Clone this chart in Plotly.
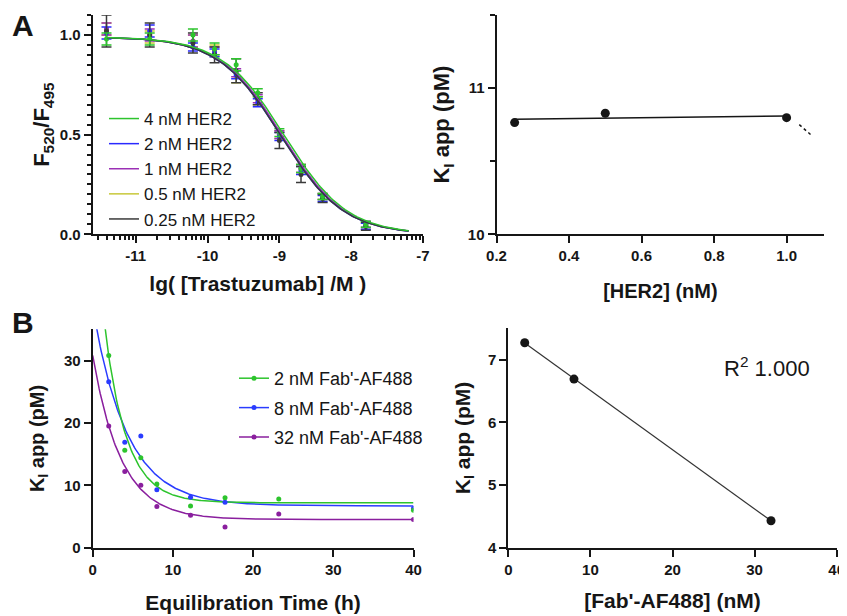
import numpy as np
import plotly.graph_objects as go

FONT = "Liberation Sans, Arial, Helvetica, sans-serif"
INK = "#161616"

# ---------------- Panel A (left): dose-response ----------------
lg_conc = [-11.408, -10.806, -10.204, -9.903, -9.602, -9.301, -9.000, -8.699, -8.398, -7.796]
her2_labels = ["4 nM HER2", "2 nM HER2", "1 nM HER2", "0.5 nM HER2", "0.25 nM HER2"]
her2_colors = ["#2dc42d", "#2a2aff", "#9b30b5", "#c8c83a", "#3a3a3a"]
ratio_4nM = [0.98, 0.98, 1.00, 0.93, 0.85, 0.71, 0.51, 0.33, 0.19, 0.05]
ratio_2nM = [1.01, 1.02, 0.94, 0.91, 0.80, 0.66, 0.49, 0.32, 0.18, 0.04]
ratio_1nM = [1.03, 1.00, 0.97, 0.92, 0.81, 0.68, 0.50, 0.33, 0.19, 0.05]
ratio_05nM = [1.03, 0.99, 0.97, 0.92, 0.79, 0.67, 0.50, 0.33, 0.19, 0.04]
ratio_025nM = [1.02, 1.00, 0.96, 0.90, 0.82, 0.68, 0.47, 0.30, 0.18, 0.04]
err_4nM = [0.03, 0.03, 0.03, 0.03, 0.03, 0.02, 0.02, 0.02, 0.015, 0.015]
err_2nM = [0.03, 0.03, 0.02, 0.02, 0.02, 0.02, 0.02, 0.02, 0.015, 0.015]
err_1nM = [0.03, 0.03, 0.03, 0.02, 0.02, 0.02, 0.02, 0.02, 0.015, 0.015]
err_05nM = [0.03, 0.03, 0.03, 0.03, 0.03, 0.02, 0.02, 0.02, 0.015, 0.015]
err_025nM = [0.08, 0.06, 0.05, 0.04, 0.06, 0.03, 0.04, 0.04, 0.02, 0.02]
fit_top = [0.99, 0.99, 0.99, 0.99, 0.99]
fit_logic50 = [-8.93, -8.98, -8.96, -8.97, -8.98]
fit_hill = [1.0, 1.0, 1.0, 1.0, 1.0]
fit_lg_start, fit_lg_end = -11.4, -7.2

# ---------------- Panel A (right): Ki app vs HER2 ----------------
her2_nM = [0.25, 0.5, 1.0]
ki_her2 = [10.764, 10.828, 10.798]
ext_her2_x = [1.035, 1.066]
ext_her2_y = [10.75, 10.683]

# ---------------- Panel B (left): Ki app vs time ----------------
eq_time = [2, 4, 6, 8, 12.2, 16.5, 23.2, 40.0]
ki_2nM = [30.8, 15.6, 14.4, 10.2, 6.7, 8.0, 7.8, 6.0]
ki_8nM = [26.6, 16.9, 17.9, 9.3, 8.1, 7.3, None, 6.3]
ki_32nM = [19.5, 12.2, 10.0, 6.6, 5.2, 3.3, 5.4, 4.5]
fab_labels = ["2 nM Fab'-AF488", "8 nM Fab'-AF488", "32 nM Fab'-AF488"]
fab_colors = ["#2dc42d", "#2a3cff", "#8a1f9e"]
decay_y0 = [56.1, 38.5, 30.8]
decay_plateau = [7.2, 6.7, 4.5]
decay_k = [0.366, 0.235, 0.281]

# ---------------- Panel B (right): Ki app vs Fab' ----------------
fab_nM = [2, 8, 32]
ki_fab = [7.27, 6.69, 4.43]

# ---------------- tick labels ----------------
A_xticks = [-11, -10, -9, -8, -7]
A_yticks = [0.0, 0.5, 1.0]
A2_xticks = [0.2, 0.4, 0.6, 0.8, 1.0]
A2_yticks = [10, 11]
B_xticks = [0, 10, 20, 30, 40]
B_yticks = [0, 10, 20, 30]
B2_xticks = [0, 10, 20, 30, 40]
B2_yticks = [4, 5, 6, 7]

fig = go.Figure()

# Panel A left traces
series_A = [ratio_4nM, ratio_2nM, ratio_1nM, ratio_05nM, ratio_025nM]
errs_A = [err_4nM, err_2nM, err_1nM, err_05nM, err_025nM]
draw_order = [3, 2, 1, 4, 0]
lg_grid = np.linspace(fit_lg_start, fit_lg_end, 200)
for i in draw_order:
    fig.add_trace(go.Scatter(
        x=lg_conc, y=series_A[i], mode="markers",
        marker=dict(color=her2_colors[i], size=5),
        error_y=dict(type="data", array=errs_A[i], color=her2_colors[i], thickness=1.5, width=5),
        xaxis="x", yaxis="y", showlegend=False, hoverinfo="skip"))
for i in draw_order:
    yfit = fit_top[i] / (1 + 10 ** ((lg_grid - fit_logic50[i]) * fit_hill[i]))
    fig.add_trace(go.Scatter(
        x=lg_grid, y=yfit, mode="lines", name=her2_labels[i],
        line=dict(color=her2_colors[i], width=1.5),
        xaxis="x", yaxis="y", legend="legend", legendrank=i + 1))

# Panel A right
slope, icpt = np.polyfit(her2_nM, ki_her2, 1)
fx = np.array([min(her2_nM), max(her2_nM)])
fig.add_trace(go.Scatter(x=fx, y=slope * fx + icpt, mode="lines",
                         line=dict(color=INK, width=1.5), xaxis="x2", yaxis="y2", showlegend=False))
fig.add_trace(go.Scatter(x=ext_her2_x, y=ext_her2_y, mode="lines",
                         line=dict(color=INK, width=1.5, dash="dot"), xaxis="x2", yaxis="y2", showlegend=False))
fig.add_trace(go.Scatter(x=her2_nM, y=ki_her2, mode="markers",
                         marker=dict(color=INK, size=9), xaxis="x2", yaxis="y2", showlegend=False))

# Panel B left
series_B = [ki_2nM, ki_8nM, ki_32nM]
t_grid = np.linspace(0, 40, 300)
for i in [2, 1, 0]:
    yfit = decay_plateau[i] + (decay_y0[i] - decay_plateau[i]) * np.exp(-decay_k[i] * t_grid)
    fig.add_trace(go.Scatter(x=t_grid, y=yfit, mode="lines", line=dict(color=fab_colors[i], width=1.5),
                             xaxis="x3", yaxis="y3", showlegend=False, hoverinfo="skip"))
for i in [2, 1, 0]:
    fig.add_trace(go.Scatter(x=eq_time, y=series_B[i], mode="markers",
                             marker=dict(color=fab_colors[i], size=5),
                             xaxis="x3", yaxis="y3", showlegend=False))
for i in [0, 1, 2]:
    # legend entry (line + marker sample)
    fig.add_trace(go.Scatter(x=[None], y=[None], mode="markers+lines", name=fab_labels[i],
                             line=dict(color=fab_colors[i], width=1.5),
                             marker=dict(color=fab_colors[i], size=5),
                             xaxis="x3", yaxis="y3", legend="legend2", legendgroup=f"g{i}"))

# Panel B right
s2, i2 = np.polyfit(fab_nM, ki_fab, 1)
fx2 = np.array([min(fab_nM), max(fab_nM)])
fig.add_trace(go.Scatter(x=fx2, y=s2 * fx2 + i2, mode="lines", line=dict(color="#333", width=1.2),
                         xaxis="x4", yaxis="y4", showlegend=False))
fig.add_trace(go.Scatter(x=fab_nM, y=ki_fab, mode="markers", marker=dict(color=INK, size=9),
                         xaxis="x4", yaxis="y4", showlegend=False))

# The page body has an 8px margin; the figure is sized/positioned so that
# screen coordinates match the 847x616 reference.
OFF = 8
W, H = 847 - OFF, 616 - OFF
def fx_(p): return (p - OFF) / W
def fy_(p): return 1 - (p - OFF) / H

TICKFONT = dict(family=FONT, size=15, color=INK, weight="bold")

def ax(domain, rng, tickvals, ticktext, title, standoff, anchor, tsize, minor=None):
    d = dict(domain=domain, range=rng, tickmode="array", tickvals=tickvals, ticktext=ticktext,
             showline=True, linecolor=INK, linewidth=2, ticks="outside", ticklen=7, tickwidth=2,
             tickcolor=INK, showgrid=False, zeroline=False, anchor=anchor, automargin=False,
             tickfont=TICKFONT,
             title=dict(text=title, standoff=standoff,
                        font=dict(family=FONT, size=tsize, color=INK, weight="bold")))
    if minor:
        d["minor"] = minor
    return d

log_minor = [d + np.log10(k) for d in range(-12, -7) for k in range(2, 10) if -11.6 < d + np.log10(k) < -7]
minor_log = dict(tickmode="array", tickvals=log_minor, ticks="outside", ticklen=4, tickwidth=1.5, tickcolor=INK)

fig.update_layout(
    width=W, height=H, margin=dict(l=0, r=0, t=0, b=0, autoexpand=False),
    paper_bgcolor="white", plot_bgcolor="white",
    font=dict(family=FONT, color=INK),
    xaxis=ax([fx_(92.7), fx_(423)], [-11.6, -7], A_xticks, [str(v) for v in A_xticks],
             "lg( [Trastuzumab] /M )", 13, "y", 21, minor_log),
    yaxis=ax([fy_(234.3), fy_(15)], [0, 1.1], A_yticks, [f"{v:.1f}" for v in A_yticks],
             "F<sub>520</sub>/F<sub>495</sub>", 4, "x", 22,
             dict(dtick=0.05, tick0=0, ticks="outside", ticklen=4, tickwidth=1.5, tickcolor=INK)),
    xaxis2=ax([fx_(496.5), fx_(824.3)], [0.2, 1.104], A2_xticks, [f"{v:.1f}" for v in A2_xticks],
              "[HER2] (nM)", 21, "y2", 20),
    yaxis2=ax([fy_(234.3), fy_(15)], [10, 11.5], A2_yticks, [str(v) for v in A2_yticks],
              "K<sub>I</sub> app (pM)", 12, "x2", 22,
              dict(dtick=0.5, tick0=10, ticks="outside", ticklen=5, tickwidth=2, tickcolor=INK)),
    xaxis3=ax([fx_(92.7), fx_(413.5)], [0, 40], B_xticks, [str(v) for v in B_xticks],
              "Equilibration Time (h)", 19, "y3", 21),
    yaxis3=ax([fy_(547.7), fy_(329.3)], [0, 35], B_yticks, [str(v) for v in B_yticks],
              "K<sub>I</sub> app (pM)", 14, "x3", 20),
    xaxis4=ax([fx_(508.3), fx_(836.7)], [0, 40], B2_xticks, [str(v) for v in B2_xticks],
              "[Fab'-AF488] (nM)", 17, "y4", 21),
    yaxis4=ax([fy_(547.7), fy_(328.3)], [4, 7.5], B2_yticks, [str(v) for v in B2_yticks],
              "K<sub>I</sub> app (pM)", 12, "x4", 21),
    legend=dict(x=fx_(104), y=fy_(101), xanchor="left", yanchor="top", bgcolor="rgba(0,0,0,0)",
                font=dict(family=FONT, size=17, color=INK), traceorder="normal"),
    legend2=dict(x=fx_(234), y=fy_(360), xanchor="left", yanchor="top", bgcolor="rgba(0,0,0,0)",
                 font=dict(family=FONT, size=18, color=INK), traceorder="grouped", tracegroupgap=3),
    annotations=[
        dict(text="<b>A</b>", x=fx_(23), y=fy_(26), xref="paper", yref="paper", showarrow=False,
             font=dict(family=FONT, size=30, color=INK), xanchor="center", yanchor="middle"),
        dict(text="<b>B</b>", x=fx_(23), y=fy_(322), xref="paper", yref="paper", showarrow=False,
             font=dict(family=FONT, size=30, color=INK), xanchor="center", yanchor="middle"),
        dict(text="R<sup>2</sup> 1.000", x=fx_(722), y=fy_(367), xref="paper", yref="paper", showarrow=False,
             font=dict(family=FONT, size=22, color=INK), xanchor="left", yanchor="middle"),
    ],
)

fig.write_html("out.html")
